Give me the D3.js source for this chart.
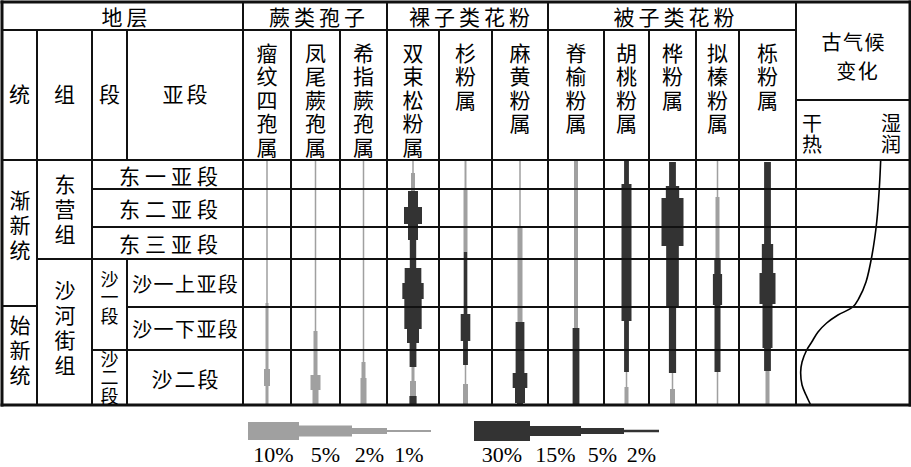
<!DOCTYPE html>
<html><head><meta charset="utf-8">
<script src="https://cdn.jsdelivr.net/npm/d3@7"></script>
<style>body{margin:0;background:#fff}svg{display:block}</style>
</head><body><svg id="c" width="911" height="467"></svg>
<script>
// ---------------- DATA ----------------
const groupNames = ["地层", "蕨类孢子", "裸子类花粉", "被子类花粉"];
const stratHeaders = ["统", "组", "段", "亚段"];
const taxa = ["瘤纹四孢属", "凤尾蕨孢属", "希指蕨孢属", "双束松粉属", "杉粉属", "麻黄粉属",
              "脊榆粉属", "胡桃粉属", "桦粉属", "拟榛粉属", "栎粉属"];
const climateTitle = ["古气候", "变化"];
const climateEnds = ["干热", "湿润"];

// stratigraphic units (relative depth, 0 = top of section, 245 = bottom)
const subsections = ["东一亚段", "东二亚段", "东三亚段", "沙一上亚段", "沙一下亚段", "沙二段"];
const subTop = [0, 29, 67, 99, 147, 190];
const subBottom = [29, 67, 99, 147, 190, 245];
const seriesNames = ["渐新统", "始新统"];
const seriesTop = [0, 146];
const seriesBottom = [146, 245];
const formationNames = ["东营组", "沙河街组"];
const formationTop = [0, 99];
const formationBottom = [99, 245];
const memberNames = ["沙一段", "沙二段"];
const memberTop = [99, 190];
const memberBottom = [190, 245];

// pollen/spore content segments per taxon: [topDepth, bottomDepth, percent, type] (g = gray scale, d = dark scale)
const s0 = [[0,143,1,"g"],[143,209,2,"g"],[209,226,5,"g"],[226,245,2,"g"]];
const s1 = [[0,171,1,"g"],[171,215,3,"g"],[215,230,10,"g"],[230,245,5,"g"]];
const s2 = [[0,202,1,"g"],[202,218,3,"g"],[218,245,5,"g"]];
const s3 = [[0,13,1,"g"],[13,31,3,"g"],[31,47,15,"d"],[47,64,27,"d"],[64,80,15,"d"],[80,108,6,"d"],
            [108,123,25,"d"],[123,139,32,"d"],[139,169,26,"d"],[169,183,18,"d"],[183,207,7,"d"],
            [207,221,2,"g"],[221,236,5,"g"],[236,245,8,"d"]];
const s4 = [[0,30,1.3,"g"],[30,92,3,"g"],[92,154,3,"d"],[154,181,14,"d"],[181,205,4,"d"],[205,224,1,"g"],[224,245,4,"g"]];
const s5 = [[0,66,1,"g"],[66,162,4,"g"],[162,213,12,"d"],[213,228,22,"d"],[228,243,15,"d"],[243,245,5,"d"]];
const s6 = [[0,168,3,"g"],[168,245,7,"d"]];
const s7 = [[0,24,4,"d"],[24,161,15,"d"],[161,212,4,"d"],[212,227,1,"g"],[227,245,3,"g"]];
const s8 = [[2,26,7,"d"],[26,38,20,"d"],[38,86,33,"d"],[86,147,19,"d"],[147,213,8,"d"],[213,229,1,"g"],[229,245,4,"g"]];
const s9 = [[0,37,1,"g"],[37,98,3,"g"],[98,114,6,"d"],[114,145,13,"d"],[145,212,5,"d"],[212,245,1,"g"]];
const s10 = [[2,84,7,"d"],[84,113,17,"d"],[113,144,24,"d"],[144,188,15,"d"],[188,211,7,"d"],[211,245,3,"g"]];
const taxonSegments = [s0, s1, s2, s3, s4, s5, s6, s7, s8, s9, s10];

// paleoclimate curve: humidity index (0 = dry/hot, 1 = humid) vs relative depth
const climateDepth = [0, 28, 62, 95, 122, 138, 147, 155, 163, 172, 182, 190, 202, 212, 225, 235, 245];
const climateValue = [0.743, 0.731, 0.708, 0.667, 0.614, 0.553, 0.498, 0.368, 0.269, 0.193, 0.138,
                      0.094, 0.053, 0.041, 0.053, 0.088, 0.129];

// legend
const legendGray = [10, 5, 2, 1];
const legendDark = [30, 15, 5, 2];

// ---------------- LAYOUT ----------------
const svg = d3.select("#c");
const CN = "'Noto Sans CJK SC','Noto Sans CJK JP',sans-serif";
const L = 2, R = 910, T = 2, H1 = 30, H2 = 160, B = 405;
const stratX = [L, 37, 92, 127, 243];
const taxonX = [243, 291, 340, 387, 439, 492, 548, 604, 649, 696, 739, 796];
const groupX = [[L, 243], [243, 387], [387, 548], [548, 796]];
const climX = [796, R];

const y = d3.scaleLinear().domain([0, 245]).range([H2, B]);
const grayW = d3.scaleLinear().domain([0, 1, 2, 5, 10]).range([0, 1.5, 3, 6, 10]);
const darkW = d3.scaleLinear().domain([0, 2, 5, 15, 30]).range([0, 2.5, 6, 10, 20]);
const climXScale = d3.scaleLinear().domain([0, 1]).range(climX);
const GRAY = "#a0a0a0", DARK = "#333333";

// ---------------- BARS ----------------
const bars = svg.append("g");
taxonSegments.forEach((segs, i) => {
  const cx = (taxonX[i] + taxonX[i + 1]) / 2;
  bars.selectAll(null).data(segs).enter().append("rect")
    .attr("x", d => cx - (d[3] === "g" ? grayW(d[2]) : darkW(d[2])) / 2)
    .attr("width", d => d[3] === "g" ? grayW(d[2]) : darkW(d[2]))
    .attr("y", d => y(d[0]))
    .attr("height", d => y(d[1]) - y(d[0]))
    .attr("fill", d => d[3] === "g" ? GRAY : DARK);
});

// ---------------- CLIMATE CURVE ----------------
const climPts = climateDepth.map((d, i) => [climXScale(climateValue[i]), y(d)]);
svg.append("path")
  .attr("d", d3.line().curve(d3.curveCatmullRom.alpha(0.5))(climPts))
  .attr("fill", "none").attr("stroke", "#000").attr("stroke-width", 1.6);

// ---------------- GRID ----------------
const grid = svg.append("g").attr("stroke", "#111").attr("stroke-linecap", "square");
function ln(x1, y1, x2, y2, w) {
  grid.append("line").attr("x1", x1).attr("y1", y1).attr("x2", x2).attr("y2", y2).attr("stroke-width", w || 2);
}
ln(L, T, R, T, 3); ln(L, B, R, B, 3); ln(L, T, L, B, 3); ln(R, T, R, B, 3);
ln(L, H2, R, H2, 2);
ln(L, H1, climX[0], H1, 2);
ln(climX[0], 100, R, 100, 2);
groupX.slice(1).forEach(g => ln(g[0], T, g[0], B, 2));
ln(climX[0], T, climX[0], B, 2);
ln(stratX[1], H1, stratX[1], B, 2);
ln(stratX[2], H1, stratX[2], B, 2);
ln(stratX[3], H1, stratX[3], H2, 2);
ln(stratX[3], y(memberTop[0]), stratX[3], B, 2);
taxonX.forEach((x, i) => { if (i > 0 && i < taxonX.length - 1 && ![387, 548].includes(x)) ln(x, H1, x, B, 2); });
ln(L, y(seriesBottom[0]), stratX[1], y(seriesBottom[0]), 2);
ln(stratX[1], y(formationBottom[0]), R, y(formationBottom[0]), 2);
subBottom.slice(0, -1).forEach(d => {
  if (d === formationBottom[0]) return;
  const inDong = d < formationBottom[0];
  const isMember = memberBottom.slice(0, -1).includes(d);
  ln(inDong || isMember ? stratX[2] : stratX[3], y(d), R, y(d), 2);
});

// ---------------- TEXT ----------------
const tx = svg.append("g").attr("font-family", CN).attr("fill", "#000");
function hText(s, x, yy, size, ls) {
  tx.append("text").attr("x", x + (ls || 0) / 2).attr("y", yy).attr("text-anchor", "middle")
    .attr("dominant-baseline", "central").attr("font-size", size).attr("letter-spacing", ls || 0).text(s);
}
function vText(s, x, yCenter, size, pitch) {
  const ls = pitch - size;
  tx.append("text").attr("x", x).attr("y", yCenter + ls / 2)
    .attr("writing-mode", "vertical-rl").style("writing-mode", "vertical-rl")
    .attr("text-anchor", "middle").attr("font-size", size).attr("letter-spacing", ls).text(s);
}
function vTextTop(s, x, yTop, size, pitch) {
  const ls = pitch - size;
  tx.append("text").attr("x", x).attr("y", yTop)
    .attr("writing-mode", "vertical-rl").style("writing-mode", "vertical-rl")
    .attr("text-anchor", "start").attr("font-size", size).attr("letter-spacing", ls).text(s);
}
groupNames.forEach((g, i) => hText(g, (groupX[i][0] + groupX[i][1]) / 2 + 2, 16, 21, 4));
stratHeaders.forEach((s, i) => hText(s, (stratX[i] + stratX[i + 1]) / 2, 93, 21, i === 3 ? 3 : 0));
taxa.forEach((t, i) => vTextTop(t, (taxonX[i] + taxonX[i + 1]) / 2, 42.5, 21, 23.5));
// climate header
hText(climateTitle[0], 853, 41, 20, 1.5);
hText(climateTitle[1], 857, 70, 20, 1.5);
vText(climateEnds[0], 812, 134, 20, 21);
vText(climateEnds[1], 891, 134, 20, 21);
seriesNames.forEach((s, i) => vText(s, 20, (y(seriesTop[i]) + y(seriesBottom[i])) / 2 - (i === 0 ? 8 : 5), 21, 25));
formationNames.forEach((s, i) => vText(s, 65, (y(formationTop[i]) + y(formationBottom[i])) / 2 - (i === 0 ? 0 : 4), 21, 25));
memberNames.forEach((s, i) => vText(s, 109.5, (y(memberTop[i]) + y(memberBottom[i])) / 2 - (i === 0 ? 7 : 0), 18, 18.5));
subsections.forEach((s, i) => {
  const inDong = i < 3;
  const x0 = inDong ? stratX[2] : stratX[3];
  const cy = (y(subTop[i]) + y(subBottom[i])) / 2;
  if (inDong) hText(s, (x0 + stratX[4]) / 2 + 1, cy, 21, 5);
  else if (s.length === 5) hText(s, (x0 + stratX[4]) / 2, cy, 20, 1.4);
  else hText(s, (x0 + stratX[4]) / 2, cy, 21, 2);
});

// ---------------- LEGEND ----------------
const lg = svg.append("g");
const legGrayThick = d3.scaleLinear().domain([1, 2, 5, 10]).range([2, 6, 11, 18]);
const legDarkThick = d3.scaleLinear().domain([2, 5, 15, 30]).range([2.5, 6, 10, 20]);
const legCY = 431;
function legend(vals, x0, lens, thick, color) {
  let x = x0;
  vals.forEach((v, i) => {
    const t = thick(v);
    lg.append("rect").attr("x", x).attr("y", legCY - t / 2).attr("width", lens[i]).attr("height", t).attr("fill", color);
    lg.append("text").attr("x", x + lens[i] / 2).attr("y", 462).attr("text-anchor", "middle")
      .attr("font-family", "'Liberation Serif','Times New Roman',serif").attr("font-size", 22).text(v + "%");
    x += lens[i];
  });
}
legend(legendGray, 248, [51, 53, 35, 44], legGrayThick, GRAY);
legend(legendDark, 474, [56, 51, 43, 35], legDarkThick, DARK);
</script></body></html>
